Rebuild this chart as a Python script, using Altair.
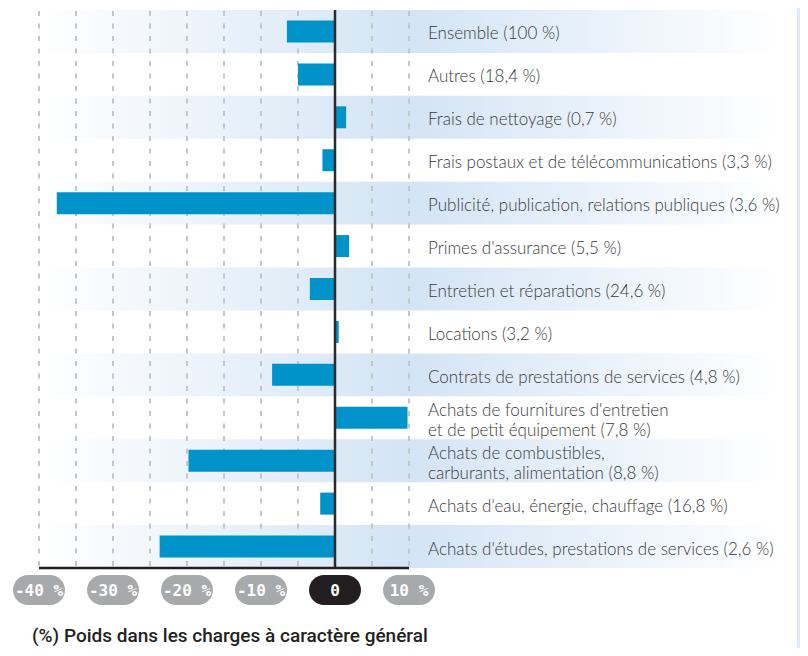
import altair as alt
import pandas as pd

categories = [
    "Ensemble (100 %)",
    "Autres (18,4 %)",
    "Frais de nettoyage (0,7 %)",
    "Frais postaux et de télécommunications (3,3 %)",
    "Publicité, publication, relations publiques (3,6 %)",
    "Primes d'assurance (5,5 %)",
    "Entretien et réparations (24,6 %)",
    "Locations (3,2 %)",
    "Contrats de prestations de services (4,8 %)",
    "Achats de fournitures d'entretien\net de petit équipement (7,8 %)",
    "Achats de combustibles,\ncarburants, alimentation (8,8 %)",
    "Achats d'eau, énergie, chauffage (16,8 %)",
    "Achats d'études, prestations de services (2,6 %)",
]
values = [-6.5, -5.0, 1.5, -1.7, -37.6, 1.9, -3.4, 0.5, -8.5, 9.8, -19.8, -2.0, -23.7]

tick_values = [-40, -30, -20, -10, 0, 10]
tick_labels = ["-40 %", "-30 %", "-20 %", "-10 %", "0", "10 %"]
grid_values = [-40, -35, -30, -25, -20, -15, -10, -5, 5, 10]
zero_value = [0]
title_text = "(%) Poids dans les charges à caractère général"

df = pd.DataFrame({"cat": categories, "value": values, "zero": [0] * len(categories)})
df["shade"] = [i % 2 == 0 for i in range(len(categories))]
df["nlines"] = [c.count("\n") + 1 for c in categories]
grid_df = pd.DataFrame({"v": grid_values})
zero_df = pd.DataFrame({"v": zero_value})
pill_df = pd.DataFrame({"v": tick_values, "label": tick_labels})

W, H = 370, 558
x_scale = alt.Scale(domain=[-40, 10], nice=False, zero=False)
y_enc = alt.Y("cat:N", sort=categories,
              scale=alt.Scale(domain=categories, paddingInner=0, paddingOuter=0),
              axis=None)

gradient = {
    "gradient": "linear", "x1": 0, "x2": 1, "y1": 0, "y2": 0,
    "stops": [
        {"offset": 0, "color": "#ffffff"},
        {"offset": 0.5, "color": "#d3e4f5"},
        {"offset": 1, "color": "#ffffff"},
    ],
}

base = alt.Chart(df)

stripes = base.transform_filter("datum.shade").mark_rect(color=gradient).encode(
    x=alt.value(1), x2=alt.value(741), y=y_enc
)

right_band = alt.Chart(zero_df).mark_rect(color="#dde9f6").encode(
    x=alt.value(758), x2=alt.value(775), y=alt.value(-12), y2=alt.value(650)
)

grid = alt.Chart(grid_df).mark_rule(color="#c6c6c8", strokeWidth=2, strokeDash=[5, 7.5]).encode(
    x=alt.X("v:Q", scale=x_scale, axis=None), y=alt.value(1), y2=alt.value(H)
)

bars = base.mark_bar(color="#0093c9", size=22).encode(
    x=alt.X("value:Q", scale=x_scale, axis=None), x2=alt.X2("zero"), y=y_enc
)

zero_line = alt.Chart(zero_df).mark_rule(color="#2b2b2d", strokeWidth=2.5).encode(
    x=alt.X("v:Q", scale=x_scale, axis=None), y=alt.value(0), y2=alt.value(H)
)

bottom_line = alt.Chart(zero_df).mark_rule(color="#231f20", strokeWidth=2.5).encode(
    x=alt.value(0), x2=alt.value(W), y=alt.value(H)
)

label_style = dict(align="left", baseline="middle", font="Lato", fontWeight=300,
                   fontSize=17, color="#3a3a3a", lineBreak="\n", lineHeight=20)

labels_single = base.transform_filter("datum.nlines == 1").mark_text(dy=3, **label_style).encode(
    x=alt.value(389), y=y_enc, text="cat:N"
)
labels_multi = base.transform_filter("datum.nlines == 2").mark_text(dy=-7, **label_style).encode(
    x=alt.value(389), y=y_enc, text="cat:N"
)

pills = alt.Chart(pill_df).mark_rect(cornerRadius=15, xOffset=-26, x2Offset=26).encode(
    x=alt.X("v:Q", scale=x_scale, axis=None), x2=alt.X2("v"),
    y=alt.value(565), y2=alt.value(595),
    color=alt.condition("datum.v == 0", alt.value("#231f20"), alt.value("#a8a9ab")),
)

pill_text = alt.Chart(pill_df).mark_text(font="DejaVu Sans Mono", fontWeight="bold",
                                         fontSize=16, color="white", baseline="middle").encode(
    x=alt.X("v:Q", scale=x_scale, axis=None), y=alt.value(581), text="label:N"
)

title = alt.Chart(pd.DataFrame({"t": [title_text]})).mark_text(
    align="left", baseline="alphabetic", font="Roboto", fontWeight=500, fontSize=19,
    color="#231f20"
).encode(x=alt.value(-7), y=alt.value(632), text="t:N")

chart = alt.layer(
    stripes, right_band, grid, bars, zero_line, bottom_line,
    labels_single, labels_multi, pills, pill_text, title
).properties(
    width=W, height=H,
    padding={"left": 31, "top": 2, "right": 391, "bottom": 80},
    autosize=alt.AutoSizeParams(type="none"),
    background="white",
).configure_view(stroke=None)

chart.save("out.html", embed_options={"renderer": "svg", "actions": False})
